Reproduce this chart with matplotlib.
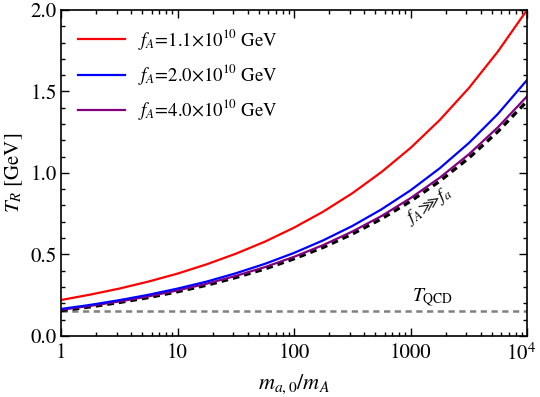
import numpy as np
import matplotlib.pyplot as plt
import matplotlib.transforms as mtransforms
from matplotlib.ticker import MultipleLocator, FixedLocator, NullFormatter

plt.rcParams['font.family'] = 'STIXGeneral'
plt.rcParams['mathtext.fontset'] = 'stix'

# m_{a,0}/m_A sampled every quarter decade
ratio = [10 ** (k / 4) for k in range(17)]

T_red = [0.22, 0.253, 0.290, 0.333, 0.382, 0.439, 0.504, 0.578, 0.664,
         0.762, 0.875, 1.005, 1.153, 1.324, 1.520, 1.745, 2.00]
T_blue = [0.165, 0.190, 0.219, 0.252, 0.290, 0.333, 0.384, 0.442, 0.509,
          0.586, 0.674, 0.776, 0.893, 1.028, 1.183, 1.362, 1.57]
T_purple = [0.160, 0.184, 0.211, 0.242, 0.279, 0.320, 0.368, 0.422, 0.485,
            0.557, 0.640, 0.735, 0.845, 0.970, 1.114, 1.280, 1.47]
T_limit = [0.155, 0.178, 0.205, 0.235, 0.271, 0.311, 0.358, 0.411, 0.473,
           0.543, 0.625, 0.718, 0.826, 0.949, 1.091, 1.254, 1.44]
T_QCD = 0.15

labels = [r'$f_A$=1.1$\times$10$^{10}$ GeV',
          r'$f_A$=2.0$\times$10$^{10}$ GeV',
          r'$f_A$=4.0$\times$10$^{10}$ GeV']

fig = plt.figure(figsize=(5.4, 3.97), dpi=100)
ax = fig.add_axes([0.113, 0.154, 0.863, 0.821])

ax.axhline(T_QCD, color='gray', ls=(0, (2.5, 1.8)), lw=1.8)
ax.plot(ratio, T_limit, color='black', ls=(0, (2, 1.5)), lw=2.4)
ax.plot(ratio, T_purple, color='purple', lw=1.6, label=labels[2])
ax.plot(ratio, T_blue, color='blue', lw=1.6, label=labels[1])
ax.plot(ratio, T_red, color='red', lw=1.6, label=labels[0])

ax.set_xscale('log')
ax.set_xlim(1, 1e4)
ax.set_ylim(0, 2.0)
ax.set_xticks([1, 10, 100, 1000, 1e4])
ax.set_xticklabels(['1', '10', '100', '1000', r'10$^4$'])
ax.xaxis.set_minor_locator(FixedLocator([m * 10 ** d for d in range(4) for m in range(2, 10)]))
ax.xaxis.set_minor_formatter(NullFormatter())
ax.yaxis.set_major_locator(MultipleLocator(0.5))
ax.yaxis.set_minor_locator(MultipleLocator(0.1))
ax.yaxis.set_major_formatter(lambda v, p: '%.1f' % v)

ax.tick_params(which='both', direction='in', top=True, right=True, labelsize=15, width=1)
ax.tick_params(which='major', length=6)
ax.tick_params(which='minor', length=3)
ax.tick_params(axis='x', pad=5)
ax.tick_params(axis='y', pad=3)
for s in ax.spines.values():
    s.set_linewidth(1.2)

# nudge the last x label so it stays inside the figure
last = ax.get_xticklabels()[-1]
last.set_transform(last.get_transform() + mtransforms.ScaledTranslation(-4 / 72, 0, fig.dpi_scale_trans))

ax.set_xlabel(r'$m_{a,0}/m_A$', fontsize=16, labelpad=6)
ax.set_ylabel(r'$T_R$ [GeV]', fontsize=15, labelpad=4)

h, l = ax.get_legend_handles_labels()
ax.legend(h[::-1], l[::-1], loc='upper left', frameon=False, fontsize=13.5,
          handlelength=2.5, handletextpad=0.7, labelspacing=0.55, borderaxespad=0.5)

ax.text(1450, 0.80, r'$f_A\!\ggg\! f_a$', rotation=35, fontsize=13,
        ha='center', va='center')
ax.text(1530, 0.23, r'$T_{\rm QCD}$', fontsize=14, ha='center', va='center')

fig.savefig('out.png', dpi=100)
